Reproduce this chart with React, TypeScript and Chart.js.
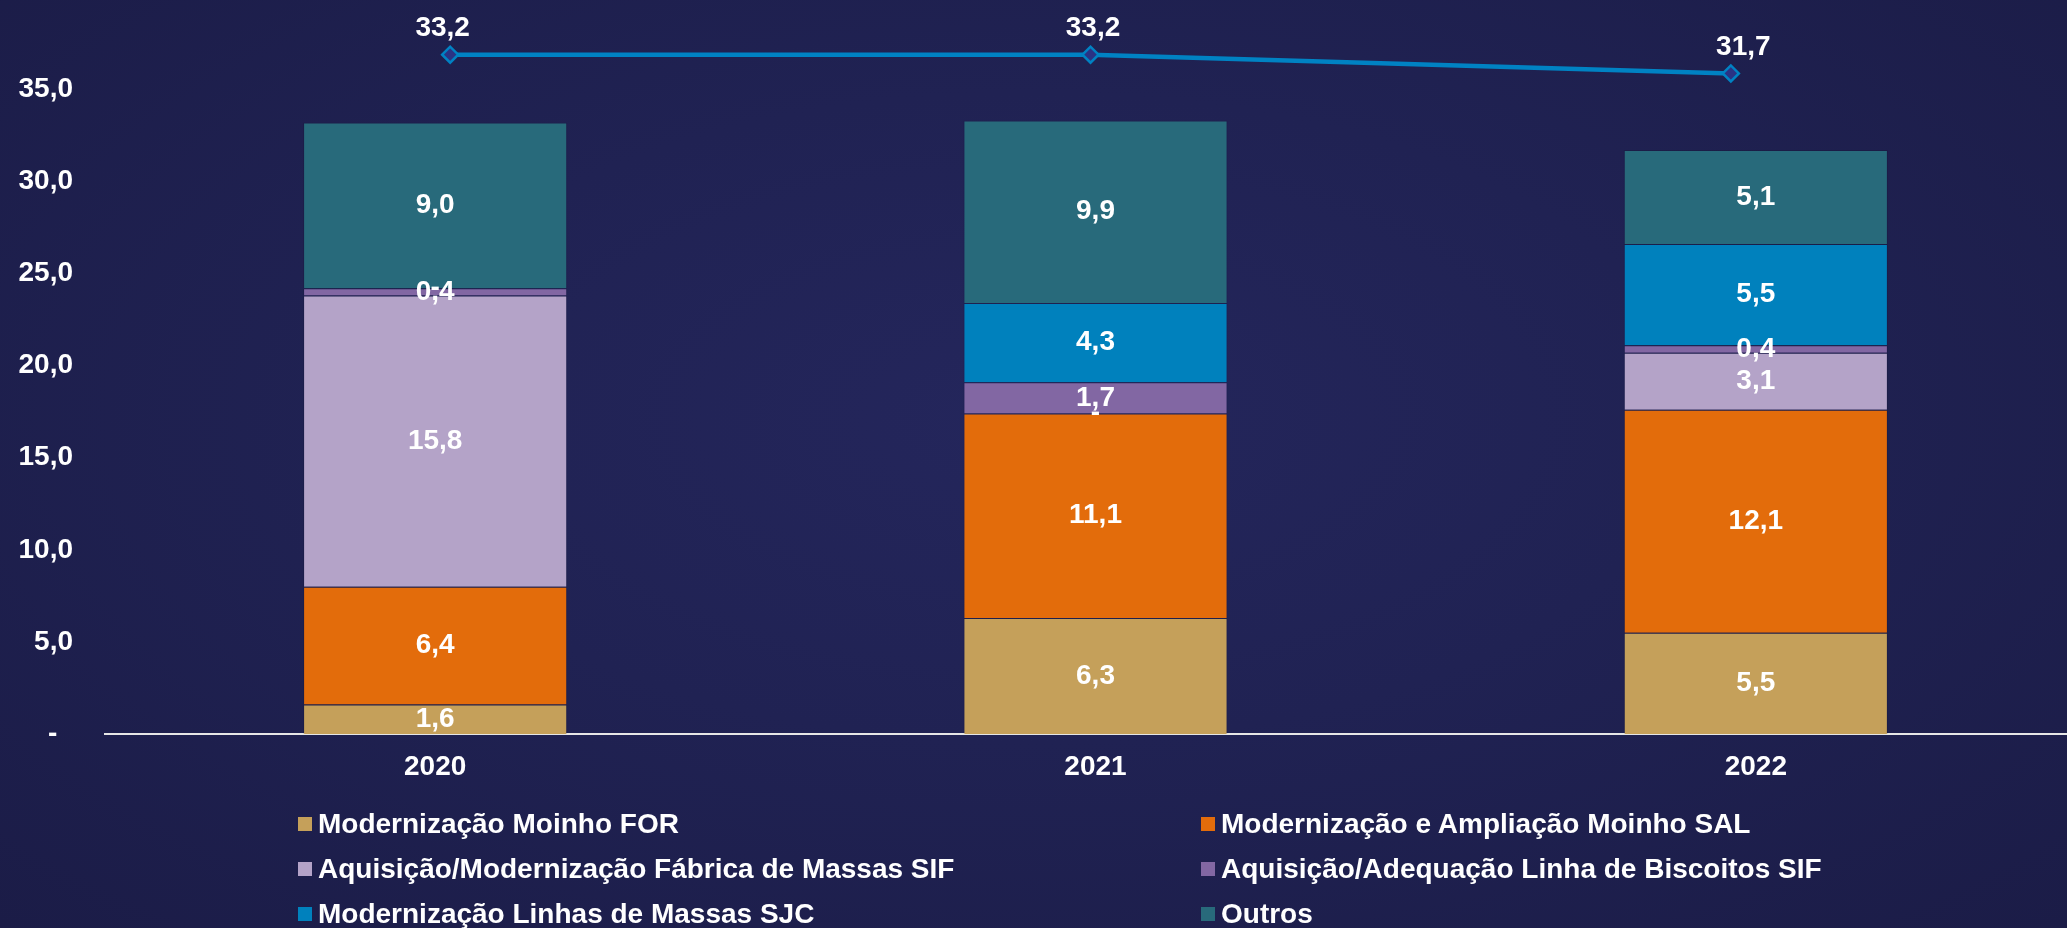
import React, { useEffect, useRef } from 'react';
import { Chart, registerables } from 'chart.js';

Chart.register(...registerables);

// ---- data ----
const categories = ['2020', '2021', '2022'];
const seriesNames = [
  'Modernização Moinho FOR',
  'Modernização e Ampliação Moinho SAL',
  'Aquisição/Modernização Fábrica de Massas SIF',
  'Aquisição/Adequação Linha de Biscoitos SIF',
  'Modernização Linhas de Massas SJC',
  'Outros',
];
const moinhoFOR = [1.6, 6.3, 5.5];
const moinhoSAL = [6.4, 11.1, 12.1];
const fabricaMassasSIF = [15.8, 0, 3.1];
const linhaBiscoitosSIF = [0.4, 1.7, 0.4];
const linhasMassasSJC = [0, 4.3, 5.5];
const outros = [9.0, 9.9, 5.1];
const totals = [33.2, 33.2, 31.7];
const yTickValues = [0, 5, 10, 15, 20, 25, 30, 35];

const barSeries = [moinhoFOR, moinhoSAL, fabricaMassasSIF, linhaBiscoitosSIF, linhasMassasSJC, outros];
const seriesColors = ['#C5A05A', '#E36C0B', '#B4A3C8', '#8267A3', '#0081BD', '#286A7B'];
const lineColor = '#0082C3';

// ---- style / layout ----
const FONT_FAMILY = '"Liberation Sans", Arial, sans-serif';
const FONT = `bold 28px ${FONT_FAMILY}`;
const CANVAS_W = 2100;
const CANVAS_H = 800;
const LINE_AXIS_LEFT = 130;
const LINE_AXIS_RIGHT = 2051;

const fmt = (v: number) => v.toFixed(1).replace('.', ',');

const shiftLineAxis = {
  id: 'shiftLineAxis',
  afterLayout(chart: any) {
    const s = chart.scales.x2;
    if (!s) return;
    s.left = LINE_AXIS_LEFT;
    s.right = LINE_AXIS_RIGHT;
    s.width = LINE_AXIS_RIGHT - LINE_AXIS_LEFT;
    s.configure();
  },
};

const valueLabels = {
  id: 'valueLabels',
  afterDatasetsDraw(chart: any) {
    const ctx = chart.ctx;
    ctx.save();
    ctx.font = FONT;
    ctx.fillStyle = '#FFFFFF';
    ctx.textAlign = 'center';
    ctx.textBaseline = 'middle';
    chart.data.datasets.forEach((ds: any, di: number) => {
      const meta = chart.getDatasetMeta(di);
      if (meta.type === 'bar') {
        meta.data.forEach((el: any, i: number) => {
          const v = ds.data[i];
          const c = el.getCenterPoint();
          ctx.fillText(v === 0 ? '-' : fmt(v), c.x, c.y);
        });
      } else if (meta.type === 'line') {
        meta.data.forEach((pt: any, i: number) => {
          const barX = chart.scales.x.getPixelForValue(i);
          ctx.fillText(fmt(ds.data[i]), (pt.x + barX) / 2, pt.y - 26);
        });
      }
    });
    ctx.restore();
  },
};

function ChartCanvas() {
  const ref = useRef<HTMLCanvasElement | null>(null);
  useEffect(() => {
    if (!ref.current) return;
    const chart = new Chart(ref.current, {
      type: 'bar',
      data: {
        labels: categories,
        datasets: [
          {
            type: 'line',
            label: 'Total',
            data: totals,
            xAxisID: 'x2',
            yAxisID: 'y2',
            borderColor: lineColor,
            borderWidth: 4.5,
            pointStyle: 'rectRot',
            pointRadius: 8,
            pointBorderWidth: 2.5,
            pointBackgroundColor: '#2A3384',
            pointBorderColor: lineColor,
            tension: 0,
            order: 0,
          } as any,
          ...barSeries.map((d, i) => ({
            type: 'bar' as const,
            label: seriesNames[i],
            data: d,
            backgroundColor: seriesColors[i],
            borderColor: 'rgba(0,0,0,0.1)',
            borderWidth: 1,
            xAxisID: 'x',
            yAxisID: 'y',
            stack: 'total',
            grouped: false,
            barPercentage: 0.4,
            categoryPercentage: 1,
            order: 1,
          })),
        ],
      },
      options: {
        animation: false,
        responsive: false,
        maintainAspectRatio: false,
        layout: { padding: { top: 34, right: CANVAS_W - 2086, bottom: 0, left: 0 } },
        plugins: {
          legend: { display: false },
          tooltip: { enabled: false },
        },
        scales: {
          x: {
            stacked: true,
            offset: true,
            grid: { display: false, drawTicks: false },
            border: { display: true, color: '#E6E6E6', width: 2 },
            ticks: { color: '#FFFFFF', font: { family: FONT_FAMILY, size: 28, weight: 'bold' }, padding: 16 },
            afterFit: (s: any) => {
              s.height = 66;
              s.paddingLeft = 0;
              s.paddingRight = 0;
            },
          },
          y: {
            stacked: true,
            min: 0,
            max: 38,
            grid: { display: false, drawTicks: false },
            border: { display: false },
            ticks: {
              color: '#FFFFFF',
              font: { family: FONT_FAMILY, size: 28, weight: 'bold' },
              padding: 32,
              callback: (v: any) => (Number(v) === 0 ? '-  ' : fmt(Number(v))),
            },
            afterBuildTicks: (s: any) => {
              s.ticks = yTickValues.map((v) => ({ value: v }));
            },
            afterFit: (s: any) => {
              s.width = 105;
              s.paddingTop = 0;
              s.paddingBottom = 0;
            },
          },
          x2: {
            type: 'category',
            display: false,
            offset: true,
            grid: { display: false },
          },
          y2: {
            type: 'linear',
            display: false,
            min: -21,
            max: 34.85,
            grid: { display: false },
          },
        } as any,
      },
      plugins: [shiftLineAxis, valueLabels],
    } as any);
    return () => chart.destroy();
  }, []);
  return <canvas ref={ref} width={CANVAS_W} height={CANVAS_H} style={{ display: 'block', width: CANVAS_W, height: CANVAS_H }} />;
}

const legendRowCenters = [824, 869, 914];
const legendColLefts = [298, 1201];

export default function App() {
  return (
    <div
      style={{
        position: 'fixed',
        left: 0,
        top: 0,
        width: 2067,
        height: 928,
        overflow: 'hidden',
        background: 'radial-gradient(ellipse at 50% 45%, #24265C 0%, #202253 45%, #1B1C47 100%)',
      }}
    >
      <div style={{ position: 'absolute', left: 0, top: 0 }}>
        <ChartCanvas />
      </div>
      {seriesNames.map((name, i) => (
        <div
          key={name}
          style={{
            position: 'absolute',
            left: legendColLefts[i % 2],
            top: legendRowCenters[Math.floor(i / 2)] - 16,
            height: 32,
            display: 'flex',
            alignItems: 'center',
            whiteSpace: 'nowrap',
          }}
        >
          <span style={{ display: 'inline-block', width: 14, height: 14, background: seriesColors[i], marginRight: 6 }} />
          <span style={{ font: FONT, color: '#FFFFFF', lineHeight: '32px' }}>{name}</span>
        </div>
      ))}
    </div>
  );
}
